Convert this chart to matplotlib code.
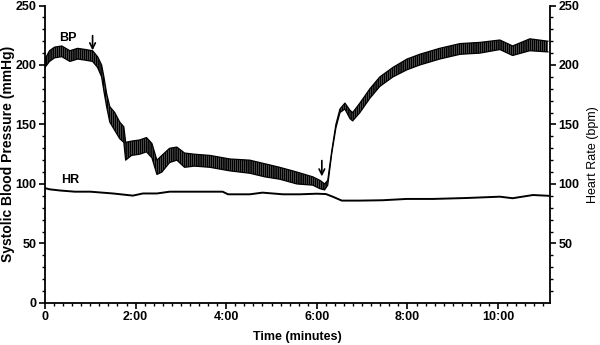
import numpy as np
import matplotlib
matplotlib.use('Agg')
import matplotlib.pyplot as plt
from matplotlib.ticker import MultipleLocator, FuncFormatter, FixedLocator

# systolic BP trace, read as upper / lower envelope of the pulse band (mmHg)
bp_time = [0.0, 0.1, 0.21, 0.37, 0.55, 0.72, 0.9, 1.05, 1.16, 1.25, 1.3, 1.36,
           1.43, 1.54, 1.65, 1.74, 1.78, 1.91, 2.09, 2.24, 2.36, 2.47, 2.58,
           2.75, 2.91, 3.08, 3.3, 3.64, 4.08, 4.52, 4.85, 5.18, 5.56, 5.91,
           6.07, 6.17, 6.24, 6.33, 6.42, 6.51, 6.62, 6.73, 6.79, 6.95, 7.17,
           7.39, 7.68, 7.99, 8.27, 8.71, 9.16, 9.6, 10.04, 10.32, 10.7, 11.1]
bp_high = [205, 212, 215, 216, 212, 214, 213, 212, 207, 200, 190, 176,
           165, 160, 152, 148, 135, 136, 137, 139, 134, 120, 124,
           130, 131, 126, 125, 124, 121, 120, 117, 114, 110, 106,
           103, 100, 103, 128, 150, 163, 168, 162, 160, 168, 180,
           190, 198, 205, 209, 214, 218, 219, 221, 216, 222, 220]
bp_low = [198, 203, 206, 207, 203, 205, 204, 203, 198, 190, 178, 165,
          152, 145, 138, 135, 120, 124, 125, 127, 122, 108, 110,
          118, 120, 114, 115, 114, 111, 109, 106, 104, 100, 99,
          96, 95, 99, 126, 147, 160, 163, 155, 153, 160, 172,
          182, 190, 196, 200, 205, 209, 210, 213, 208, 212, 211]

# heart rate (bpm)
hr_time = [0.0, 0.1, 0.33, 0.66, 1.0, 1.5, 1.94, 2.16, 2.47, 2.75, 3.4, 3.92,
           4.04, 4.52, 4.8, 5.25, 5.62, 6.0, 6.2, 6.35, 6.55, 6.95, 7.45,
           7.98, 8.56, 9.31, 10.04, 10.32, 10.77, 11.14]
hr = [96.5, 95.5, 94.5, 93.5, 93.5, 92, 90.2, 92, 92, 93.5, 93.5, 93.5,
      91.3, 91.3, 92.7, 91.3, 91.3, 91.8, 91.5, 89.3, 86, 86, 86.3,
      87.4, 87.4, 88.2, 89.3, 88, 90.7, 90]

y_ticks = [0, 50, 100, 150, 200, 250]
right_ticks = [50, 100, 150, 200, 250]

plt.rcParams['font.family'] = 'Liberation Sans'
plt.rcParams['hatch.linewidth'] = 1.3

fig = plt.figure(figsize=(6, 3.45), dpi=100)
ax = fig.add_axes([0.075, 0.122, 0.842, 0.862])

# pulse band: dense vertical hatch gives the oscillating texture
ax.fill_between(bp_time, bp_low, bp_high, facecolor='white', edgecolor='black',
                hatch='||||||||', lw=0)
ax.plot(bp_time, bp_high, color='black', lw=0.9)
ax.plot(bp_time, bp_low, color='black', lw=0.9)
ax.plot(hr_time, hr, color='black', lw=1.4)

ax.text(0.5, 223, 'BP', fontsize=9, fontweight='bold', ha='center', va='center')
ax.text(0.55, 103, 'HR', fontsize=9, fontweight='bold', ha='center', va='center')
ax.annotate('', xy=(1.05, 210), xytext=(1.05, 227),
            arrowprops=dict(arrowstyle='->', lw=1.2, color='black'))
ax.annotate('', xy=(6.11, 104), xytext=(6.11, 122),
            arrowprops=dict(arrowstyle='->', lw=1.2, color='black'))

ax.set_xlim(0, 11.15)
ax.set_ylim(0, 250)
ax.xaxis.set_major_locator(MultipleLocator(2))
ax.xaxis.set_minor_locator(MultipleLocator(0.2))
ax.xaxis.set_major_formatter(FuncFormatter(
    lambda v, p: '0' if v == 0 else f'{int(v)}:{int(round((v % 1) * 60)):02d}'))
ax.yaxis.set_major_locator(FixedLocator(y_ticks))
ax.yaxis.set_minor_locator(MultipleLocator(10))

ax2 = ax.twinx()
ax2.set_ylim(0, 250)
ax2.yaxis.set_major_locator(FixedLocator(right_ticks))
ax2.yaxis.set_minor_locator(FixedLocator([v for v in range(10, 250, 10) if v % 50]))

for a in (ax, ax2):
    a.spines['top'].set_visible(False)
    for s in a.spines.values():
        s.set_linewidth(1.3)
    a.tick_params(which='major', direction='out', length=4, width=1.2, labelsize=9, pad=2)
    a.tick_params(which='minor', direction='out', length=2.2, width=1.0)
ax.spines['right'].set_visible(False)
ax2.spines['left'].set_visible(False)
ax2.spines['bottom'].set_visible(False)

for lbl in ax.get_xticklabels() + ax.get_yticklabels() + ax2.get_yticklabels():
    lbl.set_fontweight('bold')

ax.set_xlabel('Time (minutes)', fontsize=9, fontweight='bold')
ax.xaxis.set_label_coords(0.5, -0.095)
ax.set_ylabel('Systolic Blood Pressure (mmHg)', fontsize=10, fontweight='bold')
ax.yaxis.set_label_coords(-0.06, 0.5)
ax2.set_ylabel('Heart Rate (bpm)', fontsize=9, rotation=90)
ax2.yaxis.set_label_coords(1.072, 0.5)

fig.savefig('out.png', dpi=100)
